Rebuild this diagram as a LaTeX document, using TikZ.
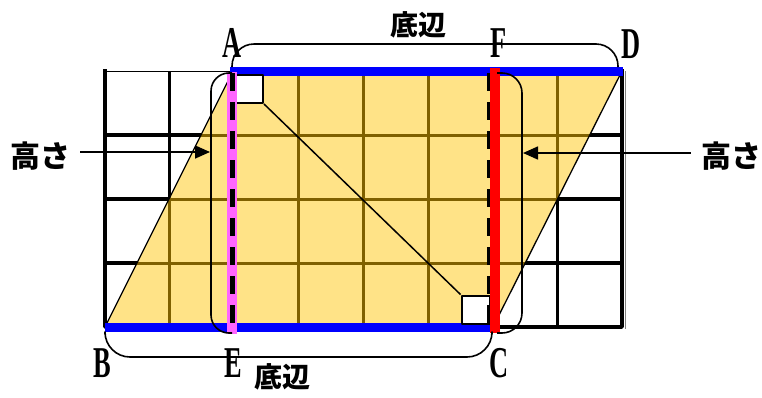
\documentclass[tikz,border=0pt]{standalone}
\usepackage{fontspec}
\newfontfamily\jp{Noto Sans CJK JP}
\newfontfamily\latn[FakeStretch=0.6]{Liberation Serif}
\usetikzlibrary{arrows.meta}
\definecolor{para}{HTML}{FFE387}
\definecolor{gridbrown}{HTML}{7F6000}
\definecolor{pinkh}{HTML}{FF66FF}
\definecolor{blueb}{HTML}{0000FF}
\definecolor{redh}{HTML}{FF0000}
\tikzset{
  gridblack/.style={line width=3.5pt, black},
  gridin/.style={line width=3pt, gridbrown},
  bracket/.style={line width=1.6pt, black},
  arr/.style={line width=1.6pt, -{Triangle[length=15pt,width=13pt]}},
  letter/.style={anchor=base, inner sep=0pt, font=\latn\bfseries\fontsize{44}{44}\selectfont},
  jlabel/.style={inner sep=0pt, font=\jp\bfseries\fontsize{28}{30}\selectfont},
  rightsq/.style={draw, fill=white, line width=2pt, minimum size=28pt, inner sep=0pt},
}
\begin{document}
\begin{tikzpicture}[x=1pt,y=-1pt,line join=round]
\useasboundingbox (0,0) rectangle (762,397);
\coordinate (A) at (233,71);
\coordinate (D) at (622,71);
\coordinate (C) at (493,327);
\coordinate (B) at (105,327);
% black grid
\foreach \k in {1,...,7} {\draw[gridblack] ({105+64.625*\k},71) -- ({105+64.625*\k},327);}
\foreach \y in {135,199,263} {\draw[gridblack] (105,\y) -- (622,\y);}
\draw[line width=1pt] (103,71) -- (A);
\draw[gray, line width=1.5pt] (625.5,71) -- (625.5,329);
\draw[gridblack, line cap=rect] (105,71) -- (B) -- (622,327) -- (D);
% parallelogram
\fill[para] (A) -- (D) -- (C) -- (B) -- cycle;
\begin{scope}
\clip (A) -- (D) -- (C) -- (B) -- cycle;
\foreach \k in {1,...,7} {\draw[gridin] ({105+64.625*\k},71) -- ({105+64.625*\k},327);}
\foreach \y in {135,199,263} {\draw[gridin] (105,\y) -- (622,\y);}
\end{scope}
\draw[line width=1.3pt] (B) -- (A);
\draw[line width=1.3pt] (D) -- (C);
% bases
\draw[blueb, line width=9pt] (230,71) -- (623,71);
\draw[blueb, line width=9pt] (B) -- (C);
% right-angle squares and diagonal
\node[rightsq] (sqA) at (249,89) {};
\node[rightsq] (sqC) at (475.5,309.5) {};
\draw[line width=1.5pt] (sqA.south east) -- (sqC.north west);
% heights
\draw[pinkh, line width=10pt] (232,72) -- (232,334);
\draw[line width=5pt, dash pattern=on 18pt off 11pt] (232,73) -- (232,333);
\draw[line width=5pt, dash pattern=on 18pt off 11pt] (489.5,73) -- (489.5,333);
\draw[redh, line width=10pt] (495,68) -- (495,333);
% brackets
\draw[bracket, rounded corners=18pt] (232,73) -- (211,73) -- (211,333) -- (232,333);
\draw[bracket, rounded corners=20pt] (497,73) -- (522,73) -- (522,333) -- (497,333);
\draw[bracket, rounded corners=22pt] (232,67) -- (232,44) -- (618,44) -- (618,67);
\draw[bracket, rounded corners=25pt] (105,334) -- (105,357) -- (492,357) -- (492,334);
% labels
\node[letter] (lA) at (232,57) {A};
\node[letter] (lD) at (631,58) {D};
\node[letter] (lF) at (499,57) {F};
\node[letter] (lB) at (102,377) {B};
\node[letter] (lE) at (233,377) {E};
\node[letter] (lC) at (499,377) {C};
\node[jlabel] (bt) at (418,25) {底辺};
\node[jlabel] (bb) at (282,377) {底辺};
\node[jlabel, font=\jp\bfseries\fontsize{30}{32}\selectfont] (hL) at (40,156) {高さ};
\node[jlabel, font=\jp\bfseries\fontsize{30}{32}\selectfont] (hR) at (731,156) {高さ};
\coordinate (tL) at (210,152);
\coordinate (tR) at (523,153);
\draw[arr, shorten <=10pt] (hL.east |- tL) -- (tL);
\draw[arr, shorten <=10pt] (hR.west |- tR) -- (tR);
\end{tikzpicture}
\end{document}
